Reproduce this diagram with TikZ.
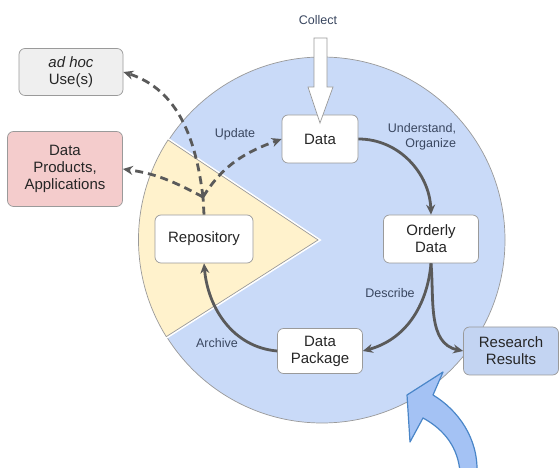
\documentclass[tikz,border=0pt]{standalone}
\usepackage{fontspec}
\setmainfont{Liberation Sans}
\usetikzlibrary{arrows.meta}
\definecolor{cyclefill}{HTML}{C9DAF8}
\definecolor{repofill}{HTML}{FFF2CC}
\definecolor{prodfill}{HTML}{F4CCCC}
\definecolor{usefill}{HTML}{EFEFEF}
\definecolor{resfill}{HTML}{C3D4F2}
\definecolor{boxline}{HTML}{9A9A9A}
\definecolor{flowgray}{HTML}{5A5A5A}
\definecolor{nodetext}{HTML}{262626}
\definecolor{tagtext}{HTML}{3A4760}
\definecolor{pushfill}{HTML}{A4C2F4}
\definecolor{pushline}{HTML}{4A86C8}
\tikzset{
  box/.style={draw=boxline, line width=0.7pt, rounded corners=6pt, fill=white, align=center,
    font=\fontsize{15}{17}\selectfont, text=nodetext, inner sep=2pt},
  tag/.style={font=\fontsize{12.5}{14.5}\selectfont, text=tagtext, align=right},
  flow/.style={draw=flowgray, line width=2.8pt, -{Stealth[length=10pt,width=9pt]}},
  reuse/.style={flow, dash pattern=on 8pt off 5pt},
}
\begin{document}
\begin{tikzpicture}[x=1pt,y=1pt]
\clip (0,0) rectangle (559,468);
\fill[white] (0,0) rectangle (559,468);
\filldraw[fill=cyclefill, draw=boxline, line width=0.7pt] (322,228) circle (183);
\draw[white, line width=4pt, line join=miter] (318,228) -- (168,328) arc (147:212:183) -- cycle;
\filldraw[fill=repofill, draw=boxline, line width=0.7pt] (318,228) -- (168,328) arc (147:212:183) -- cycle;

\node[box, minimum width=76pt, minimum height=48pt] (data) at (320,329) {Data};
\node[box, minimum width=95pt, minimum height=48pt] (orderly) at (431,229) {Orderly\\Data};
\node[box, minimum width=98pt, minimum height=48pt] (repo) at (204,229) {Repository};
\node[box, minimum width=85pt, minimum height=45pt] (package) at (320,117) {Data\\Package};
\node[box, fill=resfill, minimum width=95pt, minimum height=48pt] (results) at (511,117) {Research\\Results};
\node[box, fill=usefill, minimum width=104pt, minimum height=47pt] (adhoc) at (71,396) {\textit{ad hoc}\\Use(s)};
\node[box, fill=prodfill, minimum width=115pt, minimum height=75pt] (products) at (65,299) {Data\\Products,\\Applications};

\node[tag] (collect) at (318,448) {Collect};
\node[tag] (update) at (235,334) {Update};
\node[tag] (understand) at (422,331) {Understand,\\Organize};
\node[tag] (describe) at (390,175) {Describe};
\node[tag] (archive) at (217,125) {Archive};

\draw[flow] (data.east) to[out=0,in=92] (orderly.north);
\draw[flow] (orderly.south) to[out=-95,in=15] (package.east);
\draw[flow] (orderly.south) to[out=-85,in=168] (results.west);
\draw[flow] (package.west) to[out=175,in=-85] (repo.south);

\coordinate (branch) at (203,271);
\draw[reuse, -] (repo.north) -- (branch);
\draw[reuse] (branch) to[out=97,in=-18] (adhoc.east);
\draw[reuse] (branch) to[out=152,in=-8] (products.east);
\draw[reuse] (branch) to[out=58,in=200] (data.west);

\filldraw[fill=white, draw=boxline, line width=0.7pt]
  (314,430) -- (327,430) -- (327,381) -- (333,381) -- (320,345) -- (308,381) -- (314,381) -- cycle;

\filldraw[fill=pushfill, draw=pushline, line width=1.2pt, line join=round]
  (460,-4) .. controls (458,20) and (445,38) .. (423,50) -- (410,26) -- (407,73) -- (443,96)
  -- (433,73) .. controls (458,58) and (478,30) .. (477,-4) -- cycle;
\end{tikzpicture}
\end{document}
